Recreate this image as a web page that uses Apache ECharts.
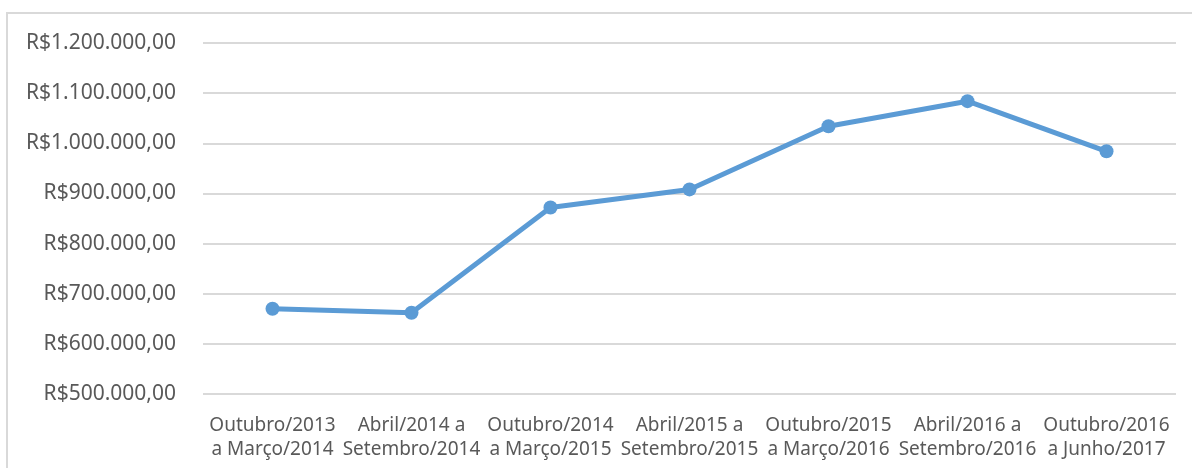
<!doctype html>
<html lang="pt">
<head>
    <meta charset="UTF-8">
    <title>Gráfico</title>
    <style>
        html, body { margin: 0; padding: 0; background: #fff; }
        #chart { width: 1192px; height: 468px; }
    </style>
    <script src="https://cdn.jsdelivr.net/npm/echarts@6/dist/echarts.min.js"></script>
</head>
<body>
<div id="chart"></div>
<script type="text/javascript">
    // periodos (eixo x)
    var periodos = [
        'Outubro/2013\na Março/2014',
        'Abril/2014 a\nSetembro/2014',
        'Outubro/2014\na Março/2015',
        'Abril/2015 a\nSetembro/2015',
        'Outubro/2015\na Março/2016',
        'Abril/2016 a\nSetembro/2016',
        'Outubro/2016\na Junho/2017'
    ];
    // valores
    var valores = [670000, 662000, 872000, 908000, 1034000, 1084000, 984000];

    function formatoReal(v) {
        var s = Math.round(v).toString().replace(/\B(?=(\d{3})+(?!\d))/g, '.');
        return 'R$' + s + ',00';
    }

    var myChart = echarts.init(document.getElementById('chart'));
    myChart.setOption({
        animation: false,
        graphic: [{
            type: 'rect',
            z: -10,
            shape: { x: 7, y: 13, width: 1200, height: 500 },
            style: { fill: 'none', stroke: '#d9d9d9', lineWidth: 2 }
        }],
        grid: { left: 203, right: 16, top: 43, bottom: 74 },
        xAxis: {
            type: 'category',
            data: periodos,
            axisLine: { show: false },
            axisTick: { show: false },
            axisLabel: {
                interval: 0,
                color: '#595959',
                fontFamily: 'Noto Sans',
                fontSize: 19,
                lineHeight: 24,
                margin: 20
            }
        },
        yAxis: {
            type: 'value',
            min: 500000,
            max: 1200000,
            interval: 100000,
            axisLine: { show: false },
            axisTick: { show: false },
            splitLine: { lineStyle: { color: '#d9d9d9', width: 2 } },
            axisLabel: {
                color: '#595959',
                fontFamily: 'Noto Sans',
                fontSize: 21,
                margin: 27,
                formatter: formatoReal
            }
        },
        series: [{
            type: 'line',
            data: valores,
            symbol: 'circle',
            symbolSize: 14,
            itemStyle: { color: '#5b9bd5' },
            lineStyle: { color: '#5b9bd5', width: 5 }
        }]
    });
</script>
</body>
</html>
